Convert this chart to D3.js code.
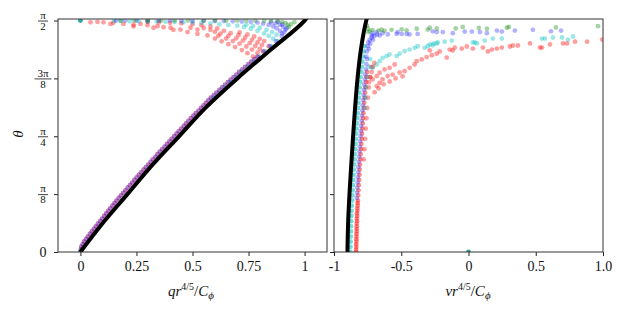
<!DOCTYPE html>
<html>
<head>
<meta charset="utf-8">
<script src="https://cdn.jsdelivr.net/npm/d3@7"></script>
<style>
body { margin: 0; background: #fff; }
text { font-family: "Liberation Serif", "DejaVu Serif", serif; fill: #111; }
</style>
</head>
<body>
<script>
"use strict";

// angle values are kept in degrees, labelled as fractions of pi
var thetaTicks = [0, 22.5, 45, 67.5, 90];
var thetaTickLabels = [["0"], ["π", "8"], ["π", "4"], ["3π", "8"], ["π", "2"]];
var qTicks = [0, 0.25, 0.5, 0.75, 1];
var qTickLabels = ["0", "0.25", "0.5", "0.75", "1"];
var vTicks = [-1, -0.5, 0, 0.5, 1];
var vTickLabels = ["-1", "-0.5", "0", "0.5", "1.0"];

// thick black reference curves
var blackTheta = [0, 11.25, 22.5, 33.75, 45, 56.25, 67.5, 78.75, 90, 91];
var blackQ = [0, 0.10, 0.21, 0.32, 0.44, 0.56, 0.70, 0.85, 1.0, 1.01];
var blackV = [-0.90, -0.895, -0.885, -0.872, -0.858, -0.843, -0.825, -0.80, -0.76, -0.755];

// left panel: [q, theta]
var leftBand = [[0,0],[0.004,2],[0.016,4],[0.033,6],[0.051,8],[0.069,10],[0.088,12],[0.106,14],[0.124,16],
  [0.143,18],[0.161,20],[0.181,22],[0.201,24],[0.221,26],[0.241,28],[0.261,30],[0.282,32],[0.303,34],
  [0.323,36],[0.344,38],[0.365,40],[0.386,42],[0.407,44],[0.429,46],[0.45,48],[0.471,50],[0.493,52],
  [0.515,54],[0.538,56],[0.56,58],[0.582,60],[0.607,62],[0.632,64],[0.658,66],[0.683,68],[0.708,70],
  [0.735,72],[0.762,74]];
var leftBandOdd = [[0.002,1],[0.01,3],[0.025,5],[0.042,7],[0.06,9],[0.078,11],[0.097,13],[0.115,15],
  [0.133,17],[0.152,19],[0.171,21],[0.191,23],[0.211,25],[0.231,27],[0.251,29],[0.271,31],[0.292,33],
  [0.313,35],[0.334,37],[0.354,39],[0.376,41],[0.397,43],[0.418,45],[0.439,47],[0.461,49],[0.482,51],
  [0.504,53],[0.527,55],[0.549,57],[0.571,59],[0.595,61],[0.62,63],[0.645,65],[0.67,67],[0.696,69],
  [0.722,71],[0.749,73],[0.776,75]];
var leftRed = [[0.789,76],[0.815,78],[0.84,80],
  [0.77,76],[0.745,77.3],[0.72,78.5],[0.69,79.7],[0.66,80.8],[0.63,81.9],[0.60,83],
  [0.79,77.5],[0.765,78.7],[0.74,79.9],[0.71,81],[0.68,82],[0.65,83],[0.615,84],
  [0.80,79],[0.78,80.1],[0.755,81.2],[0.725,82.2],[0.695,83.1],[0.66,84],[0.625,84.9],
  [0.81,80.5],[0.79,81.5],[0.765,82.5],[0.735,83.4],[0.705,84.3],[0.67,85.1],
  [0.82,82],[0.80,82.9],[0.775,83.8],[0.745,84.6],[0.71,85.4],
  [0.60,85.6],[0.58,86.4],[0.55,87.1],[0.64,86],[0.61,86.9],[0.58,87.7],[0.54,88.2],[0.5,88.6],
  [0.45,88.9],[0.4,89.1],[0.35,89.3],[0.3,89.4],
  [0.567,84.2],[0.522,84.8],[0.522,86.5],[0.491,87.2],[0.478,85.5],[0.446,86.5],[0.415,86.4],
  [0.402,87.2],[0.371,87.4],[0.344,87.8],[0.326,87.2],[0.299,88.2],[0.268,88.7],[0.237,87.7],
  [0.237,88.4],[0.192,88.7],[0.147,89.1],[0.134,88.7],[0.103,89.3],[0.076,89.5],[0.045,89.3]];
var leftCyan = [[0.592,60],[0.617,62],[0.642,64],[0.668,66],[0.693,68],[0.718,70],[0.745,72],[0.772,74],
  [0.799,76],[0.826,78],[0.853,80],[0.88,82],
  [0.86,83],[0.84,84],[0.82,85],[0.79,86],[0.76,86.8],[0.73,87.5],[0.70,88],
  [0.875,84.5],[0.855,85.5],[0.83,86.4],[0.80,87.2],[0.77,87.9],[0.74,88.4],
  [0.66,88.3],[0.62,88.6],[0.58,88.9],[0.54,89.1],[0.50,89.2],[0.46,89.3],[0.42,89.4],[0.38,89.5],
  [0.34,89.6],[0.30,89.6],[0.26,89.7],[0.22,89.7],[0.18,89.8],[0.15,89.8]];
var leftBlue = [[0.791,76],[0.818,78],[0.845,80],[0.872,82],[0.898,84],
  [0.90,85],[0.89,86],[0.875,87],[0.86,87.7],[0.84,88.3],[0.815,88.8],[0.79,89.2],[0.76,89.5],
  [0.72,89.6],[0.68,89.7],[0.64,89.8],[0.60,89.8],[0.55,89.9],[0.50,89.9],[0.45,89.9],[0.40,90],
  [0.35,90],[0.30,90],[0.25,90],[0.20,90],[0.16,90],
  [0.915,86.5],[0.905,87.5],[0.89,88.3],[0.87,88.9],[0.85,89.3],
  [0.91,85.5],[0.92,87],[0.90,88.5],[0.88,89.5]];
var leftGreen = [[0.93,87.5],[0.925,88.3],[0.915,89],[0.90,89.4],[0.88,89.7],[0.85,89.8],[0.82,89.9],
  [0.78,90],[0.74,90],[0.70,90],[0.65,90],[0.60,90],[0.55,90],[0.48,90],[0.42,90],[0.36,90],
  [0.30,90],[0.24,90],[0.18,90],[0.94,88.6],[0.955,89.4]];
var leftMarks = [[0,0],[0,90]];

// right panel: [v, theta]
var rightBand = [[-0.835,0],[-0.834,2],[-0.833,4],[-0.832,6],[-0.831,8],[-0.831,10],[-0.829,12],
  [-0.828,14],[-0.826,16],[-0.824,18],[-0.822,20],[-0.82,22],[-0.818,24],[-0.816,26],[-0.814,28],
  [-0.811,30],[-0.809,32],[-0.807,34],[-0.804,36],[-0.802,38],[-0.799,40],[-0.797,42],[-0.794,44],
  [-0.792,46],[-0.789,48],[-0.786,50],[-0.784,52],[-0.781,54],[-0.778,56],[-0.775,58],[-0.772,60],
  [-0.769,62],[-0.766,64],[-0.762,66],[-0.759,68],[-0.754,70]];
var rightBandOdd = [[-0.836,1],[-0.835,3],[-0.834,5],[-0.833,7],[-0.832,9],[-0.831,11],[-0.83,13],
  [-0.829,15],[-0.827,17],[-0.825,19]];
var rightRed = [[-0.779,36],[-0.774,40],[-0.769,44],[-0.764,48],[-0.759,52],[-0.753,56],[-0.747,60],
  [-0.741,64],[-0.734,68],[-0.725,72],
  [-0.74,66],[-0.73,68],[-0.72,70],[-0.71,72],[-0.70,73.5],
  [-0.698,62.1],[-0.668,63.6],[-0.631,65.2],[-0.586,66.3],[-0.542,67.5],[-0.49,68.3],
  [-0.683,64.5],[-0.661,65.8],[-0.639,67.1],[-0.601,68.4],[-0.564,69.0],
  [-0.713,67.1],[-0.683,68.4],[-0.661,69.7],[-0.624,71.0],[-0.586,71.6],[-0.549,72.9],
  [-0.512,69.8],[-0.475,70.3],[-0.438,71.6],[-0.401,72.9],
  [-0.385,74.2],[-0.348,74.9],[-0.311,75.8],[-0.273,76.5],[-0.236,77.1],
  [-0.214,78.0],[-0.139,78.7],[-0.102,79.5],[-0.05,79.1],[-0.013,79.9],[0.107,79.5],[0.144,78.0],
  [0.174,78.7],[0.211,79.1],[0.248,79.5],[0.308,79.9],[0.367,80.3],[0.457,81.1],[0.531,79.5],
  [0.546,79.5],[0.606,80.7],[0.703,81.1],[0.792,81.8],[0.882,81.8],[0.994,82.6],[-0.288,78.4],
  [-0.162,75.6],[-0.117,78.4],[0.032,79.1],[0.33,80.3],[0.733,81.1]];
var rightCyanBand = [[-0.878,0],[-0.877,2],[-0.876,4],[-0.875,6],[-0.874,8],[-0.874,10],[-0.872,12],
  [-0.871,14],[-0.869,16],[-0.867,18],[-0.865,20],[-0.863,22],[-0.861,24],[-0.859,26],[-0.857,28],
  [-0.854,30],[-0.852,32],[-0.85,34],[-0.847,36],[-0.845,38],[-0.842,40],[-0.84,42],[-0.837,44],
  [-0.835,46],[-0.832,48],[-0.829,50],[-0.827,52],[-0.824,54],[-0.821,56],[-0.818,58],[-0.815,60],
  [-0.812,62],[-0.809,64],[-0.805,66],[-0.802,68],[-0.797,70],[-0.793,72],[-0.789,74],[-0.784,76],
  [-0.78,78],[-0.774,80]];
var rightCyan = [[-0.77,56],[-0.765,60],[-0.76,64],[-0.75,68],[-0.74,72],[-0.73,75],
  [-0.713,71.6],[-0.683,72.9],[-0.66,74.2],[-0.638,75.5],[-0.609,76.2],[-0.587,76.8],
  [-0.534,76.2],[-0.512,77.1],[-0.475,78.1],[-0.438,78.7],[-0.40,79.4],[-0.378,80.0],
  [-0.326,79.4],[-0.303,80.0],[-0.266,80.4],[-0.236,81.0],
  [-0.288,80.7],[-0.259,81.1],[-0.229,81.5],[-0.177,81.8],[-0.124,82.2],[0.032,81.5],[0.047,81.5],
  [0.062,81.1],[0.121,82.2],[0.181,83.0],[0.248,83.0],[0.546,83.0],[0.569,83.0],[0.628,83.4],
  [0.695,83.4],[0.74,82.6],[0.777,83.8]];
var rightBlue = [[-0.831,21],[-0.829,23],[-0.827,25],[-0.825,27],[-0.823,29],[-0.82,31],[-0.818,33],
  [-0.816,35],[-0.813,37],[-0.811,39],[-0.808,41],[-0.806,43],[-0.803,45],[-0.801,47],[-0.798,49],
  [-0.795,51],[-0.793,53],[-0.79,55],[-0.787,57],[-0.784,59],[-0.781,61],[-0.778,63],[-0.775,65],
  [-0.771,67],[-0.768,69],[-0.763,71],[-0.759,73],[-0.755,75],
  [-0.76,76],[-0.755,78],[-0.75,80],[-0.745,81.5],[-0.735,82.5],[-0.72,83.3],[-0.70,84],[-0.68,84.5],
  [-0.74,79],[-0.73,81],[-0.71,82.5],[-0.66,84.2],[-0.60,84.6],
  [-0.72,84.2],[-0.713,85.0],[-0.683,85.5],[-0.639,85.1],[-0.534,84.8],[-0.527,85.5],[-0.497,84.8],
  [-0.46,84.8],[-0.438,84.6],[-0.378,84.8],[-0.266,85.8],[-0.236,85.5],[-0.191,85.5],[-0.117,85.1],
  [-0.028,85.7],[0.025,85.7],[0.085,85.5],[0.137,85.1],[0.211,86.1],[0.248,85.7],[0.345,86.1],
  [0.479,86.4],[0.613,85.8],[0.688,86.1]];
var rightGreen = [[-0.745,85.5],[-0.735,86.0],[-0.713,86.3],[-0.668,86.1],[-0.646,86.5],[-0.624,86.0],
  [-0.572,86.4],[-0.497,86.6],[-0.46,86.2],[-0.385,86.8],[-0.303,86.5],[-0.236,86.9],[-0.288,87.2],
  [-0.095,86.9],[-0.043,87.5],[0.077,87.1],[0.137,86.8],[0.285,87.2],[0.30,87.5],[0.65,87.3],
  [0.963,87.8],[-0.75,87],[-0.755,88]];
var rightMarks = [[0,0]];

var colors = {red: "#ff0000", cyan: "#00bfbf", blue: "#0000ff", green: "#008000", mark: "#1a9a9a"};

var width = 627, height = 313;
var plotTop = 19, plotBottom = 252;

var svg = d3.select("body").append("svg")
    .attr("width", width)
    .attr("height", height);

var yScale = d3.scaleLinear().domain([0, 90.6]).range([plotBottom, plotTop]);
var xLeft = d3.scaleLinear().domain([-0.1, 1.1]).range([58, 327]);
var xRight = d3.scaleLinear().domain([-1, 1]).range([334, 603]);

function panel(id, xScale, sets, blackX, ticks, tickLabels, labelTheta) {
  var g = svg.append("g").attr("class", "panel-" + id);
  var x0 = xScale.range()[0], x1 = xScale.range()[1];

  g.append("defs").append("clipPath")
      .attr("id", "clip-" + id)
    .append("rect")
      .attr("x", x0).attr("y", plotTop)
      .attr("width", x1 - x0).attr("height", plotBottom - plotTop);

  var plot = g.append("g").attr("clip-path", "url(#clip-" + id + ")");

  sets.forEach(function(s) {
    plot.append("g").selectAll("circle")
        .data(s.data)
      .enter().append("circle")
        .attr("cx", function(d) { return xScale(d[0]); })
        .attr("cy", function(d) { return yScale(d[1]); })
        .attr("r", s.r || 2.4)
        .attr("fill", s.color)
        .attr("fill-opacity", s.alpha || 0.38);
  });

  // reference curve
  var line = d3.line()
      .curve(d3.curveMonotoneY)
      .x(function(d, i) { return xScale(blackX[i]); })
      .y(function(d) { return yScale(d); });
  plot.append("path")
      .datum(blackTheta)
      .attr("d", line)
      .attr("fill", "none")
      .attr("stroke", "#000")
      .attr("stroke-width", 4);

  // axes
  var xAxis = d3.axisBottom(xScale)
      .tickValues(ticks)
      .tickSize(4)
      .tickPadding(5)
      .tickFormat(function(d, i) { return tickLabels[i]; });
  var gx = g.append("g")
      .attr("transform", "translate(0," + plotBottom + ")")
      .call(xAxis)
      .attr("font-family", null);
  gx.select(".domain").remove();
  gx.selectAll("text").attr("font-size", 14);

  var yAxis = d3.axisLeft(yScale)
      .tickValues(thetaTicks)
      .tickSize(4)
      .tickFormat("");
  var gy = g.append("g")
      .attr("transform", "translate(" + x0 + ",0)")
      .call(yAxis)
      .attr("font-family", null);
  gy.select(".domain").remove();
  g.selectAll(".tick line").attr("stroke", "#222");

  if (labelTheta) {
    gy.selectAll(".tick").each(function(d, i) {
      var t = d3.select(this);
      var lab = thetaTickLabels[i];
      if (lab.length === 1) {
        t.append("text").attr("x", -15).attr("dy", "0.35em")
          .attr("text-anchor", "middle").attr("font-size", 14).text(lab[0]);
      } else {
        var w = lab[0].length > 1 ? 8.5 : 5;
        t.append("text").attr("x", -15).attr("y", -2.2)
          .attr("text-anchor", "middle").attr("font-size", 11).text(lab[0]);
        t.append("line").attr("x1", -15 - w).attr("x2", -15 + w)
          .attr("y1", 0).attr("y2", 0)
          .attr("stroke", "#111").attr("stroke-width", 0.8);
        t.append("text").attr("x", -15).attr("y", 8.8)
          .attr("text-anchor", "middle").attr("font-size", 11).text(lab[1]);
      }
    });
  }

  // frame
  g.append("rect")
      .attr("x", x0).attr("y", plotTop)
      .attr("width", x1 - x0).attr("height", plotBottom - plotTop)
      .attr("fill", "none")
      .attr("stroke", "#333")
      .attr("stroke-width", 1);
  return g;
}

panel("left", xLeft, [
  {data: leftBand, color: colors.red},
  {data: leftBandOdd, color: colors.red, alpha: 0.3},
  {data: leftRed, color: colors.red},
  {data: leftCyan, color: colors.cyan},
  {data: leftBand, color: colors.blue, alpha: 0.25},
  {data: leftBandOdd, color: colors.blue, alpha: 0.3},
  {data: leftBlue, color: colors.blue, alpha: 0.3},
  {data: leftGreen, color: colors.green, alpha: 0.35},
  {data: leftMarks, color: colors.mark, alpha: 0.9}
], blackQ, qTicks, qTickLabels, true);

panel("right", xRight, [
  {data: rightBand, color: colors.red, alpha: 0.45},
  {data: rightBandOdd, color: colors.red, alpha: 0.45},
  {data: rightRed, color: colors.red},
  {data: rightCyanBand, color: colors.cyan, alpha: 0.55},
  {data: rightCyan, color: colors.cyan},
  {data: rightBlue, color: colors.blue, alpha: 0.3},
  {data: rightGreen, color: colors.green, alpha: 0.35},
  {data: rightMarks, color: colors.mark, alpha: 0.9}
], blackV, vTicks, vTickLabels, false);

// axis titles
function xTitle(cx, sym) {
  var t = svg.append("text")
      .attr("x", cx).attr("y", 296)
      .attr("text-anchor", "middle")
      .attr("font-size", 15);
  t.append("tspan").attr("font-style", "italic").text(sym + "r");
  t.append("tspan").attr("font-size", 10).attr("dy", -6).text("4/5");
  t.append("tspan").attr("dy", 6).text("/");
  t.append("tspan").attr("font-style", "italic").text("C");
  t.append("tspan").attr("font-style", "italic").attr("font-size", 11).attr("dy", 3).text("ϕ");
}
xTitle(191, "q");
xTitle(468, "v");

svg.append("text")
    .attr("transform", "translate(23,134) rotate(-90)")
    .attr("text-anchor", "middle")
    .attr("font-size", 15)
    .attr("font-style", "italic")
    .text("θ");
</script>
</body>
</html>
